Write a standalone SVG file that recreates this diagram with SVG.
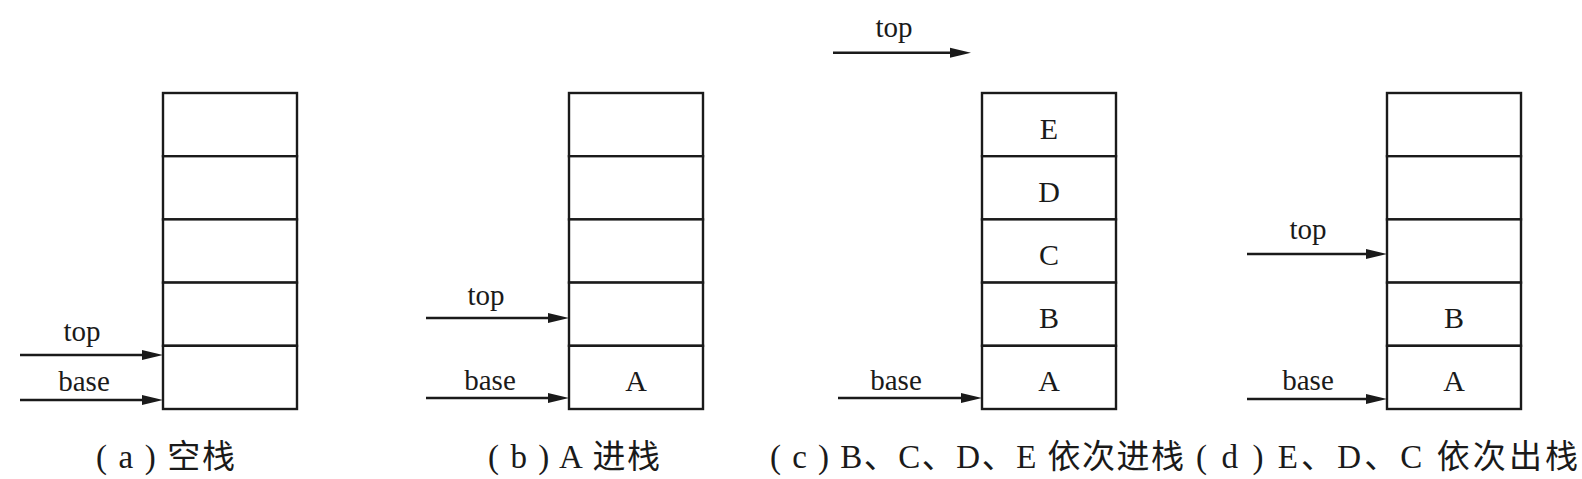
<svg xmlns="http://www.w3.org/2000/svg" width="1582" height="479" viewBox="0 0 1582 479">
<style>
.cell{fill:#fff;stroke:#1a1a1a;stroke-width:2.4}
.arr{fill:none;stroke:#1a1a1a;stroke-width:2.4}
.lbl{font-family:"Liberation Serif","Times New Roman",serif;font-size:29px;fill:#1a1a1a;text-anchor:middle}
.val{font-family:"Liberation Serif","Times New Roman",serif;font-size:30px;fill:#1a1a1a;text-anchor:middle}
.cap{font-family:"Liberation Serif","Noto Sans CJK SC",serif;font-size:33px;fill:#1a1a1a}
</style>
<defs>
<marker id="ah" markerUnits="userSpaceOnUse" markerWidth="24" markerHeight="14" refX="10" refY="7" orient="auto">
<path d="M0,2 L21,7 L0,12 Z" fill="#1a1a1a"/>
</marker>
<g id="stackshape">
<rect class="cell" x="0" y="0" width="134" height="63.2"/>
<rect class="cell" x="0" y="63.2" width="134" height="63.2"/>
<rect class="cell" x="0" y="126.4" width="134" height="63.2"/>
<rect class="cell" x="0" y="189.6" width="134" height="63.2"/>
<rect class="cell" x="0" y="252.8" width="134" height="63.2"/>
</g>
</defs>
<rect width="1582" height="479" fill="#fff"/>

<g id="stack-a">
<use href="#stackshape" x="163" y="93"/>
</g>
<g id="stack-b">
<use href="#stackshape" x="569" y="93"/>
<text class="val" x="636" y="391">A</text>
</g>
<g id="stack-c">
<use href="#stackshape" x="982" y="93"/>
<text class="val" x="1049" y="139">E</text>
<text class="val" x="1049" y="202">D</text>
<text class="val" x="1049" y="265">C</text>
<text class="val" x="1049" y="328">B</text>
<text class="val" x="1049" y="391">A</text>
</g>
<g id="stack-d">
<use href="#stackshape" x="1387" y="93"/>
<text class="val" x="1454" y="328">B</text>
<text class="val" x="1454" y="391">A</text>
</g>

<g id="connectors">
<path class="arr" d="M20,355 H152" marker-end="url(#ah)"/>
<path class="arr" d="M20,400 H152" marker-end="url(#ah)"/>
<path class="arr" d="M426,318 H558" marker-end="url(#ah)"/>
<path class="arr" d="M426,398 H558" marker-end="url(#ah)"/>
<path class="arr" d="M833,52.7 H960" marker-end="url(#ah)"/>
<path class="arr" d="M838,398 H971" marker-end="url(#ah)"/>
<path class="arr" d="M1247,254 H1376" marker-end="url(#ah)"/>
<path class="arr" d="M1247,399 H1376" marker-end="url(#ah)"/>
</g>

<g id="pointer-labels">
<text class="lbl" x="82" y="341">top</text>
<text class="lbl" x="84" y="391">base</text>
<text class="lbl" x="486" y="305">top</text>
<text class="lbl" x="490" y="390">base</text>
<text class="lbl" x="894" y="37">top</text>
<text class="lbl" x="896" y="390">base</text>
<text class="lbl" x="1308" y="239">top</text>
<text class="lbl" x="1308" y="390">base</text>
</g>

<g id="captions">
<text class="cap" x="96" y="468" textLength="139" lengthAdjust="spacing">( a ) 空栈</text>
<text class="cap" x="488" y="468" textLength="172" lengthAdjust="spacing">( b ) A 进栈</text>
<text class="cap" x="770" y="468" textLength="414" lengthAdjust="spacing">( c ) B、C、D、E 依次进栈</text>
<text class="cap" x="1196" y="468" textLength="382" lengthAdjust="spacing">( d ) E、D、C 依次出栈</text>
</g>
</svg>
